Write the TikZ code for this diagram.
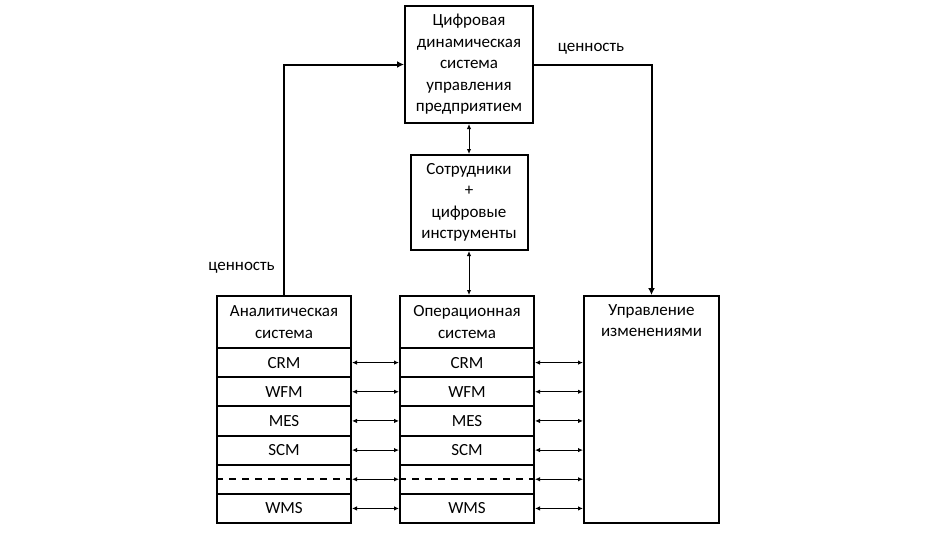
\documentclass[tikz,border=0pt]{standalone}
\usepackage{fontspec}
\setmainfont{Carlito}
\usetikzlibrary{arrows.meta,positioning}

\begin{document}
\begin{tikzpicture}[x=1pt,y=-1pt,
    box/.style={draw,line width=2pt,align=center,inner sep=0pt,font=\fontsize{17}{21.5}\selectfont},
    txt/.style={align=center,inner sep=0pt,font=\fontsize{17}{21}\selectfont},
    flow/.style={line width=2pt,-{Latex[length=7pt,width=7pt]}},
    duo/.style={line width=1pt,{Latex[length=5pt,width=4.5pt]}-{Latex[length=5pt,width=4.5pt]}}]
    \useasboundingbox (0,0) rectangle (938,544);
    % Top
    \node[box,minimum width=128pt,minimum height=117pt] (top) at (469,64.5)
        {Цифровая\\динамическая\\система\\управления\\предприятием};
    \node[box,minimum width=117pt,minimum height=95pt] (emp) at (469,202.5)
        {Сотрудники\\+\\цифровые\\инструменты};
    % Columns
    \node[box,minimum width=134pt,minimum height=52pt] (ana) at (284,322) {Аналитическая\\система};
    \node[box,minimum width=134pt,minimum height=52pt] (ops) at (467,322) {Операционная\\система};
    \node[box,minimum width=135pt,minimum height=227pt] (upr) at (651.5,409.5) {};
    \node[txt,below=9pt of upr.north] (uprtxt) {Управление\\изменениями};
    % Rows
    \foreach \lab [count=\i] in {CRM,WFM,MES,SCM,,WMS} {
        \pgfmathsetmacro\yc{348+29.17*(\i-0.5)}
        \node[box,minimum width=134pt,minimum height=29.17pt] (ana\i) at (284,\yc) {\lab};
        \node[box,minimum width=134pt,minimum height=29.17pt] (ops\i) at (467,\yc) {\lab};
        \draw[duo] (ana\i.east) -- (ops\i.west);
        \draw[duo] (ops\i.east) -- (ops\i.east -| upr.west);
    }
    \draw[line width=2pt,dash pattern=on 7pt off 6pt] (ana5.west) -- (ana5.east);
    \draw[line width=2pt,dash pattern=on 7pt off 6pt] (ops5.west) -- (ops5.east);
    % Links
    \draw[duo] (top.south) -- (emp.north);
    \draw[duo] (emp.south) -- (emp.south |- ops.north);
    \draw[flow] (ana.north) |- (top.west);
    \draw[flow] (top.east) -| (upr.north);
    % Labels
    \node[txt] (valr) at (591,49) {ценность};
    \node[txt] (vall) at (241.5,268) {ценность};
\end{tikzpicture}
\end{document}
